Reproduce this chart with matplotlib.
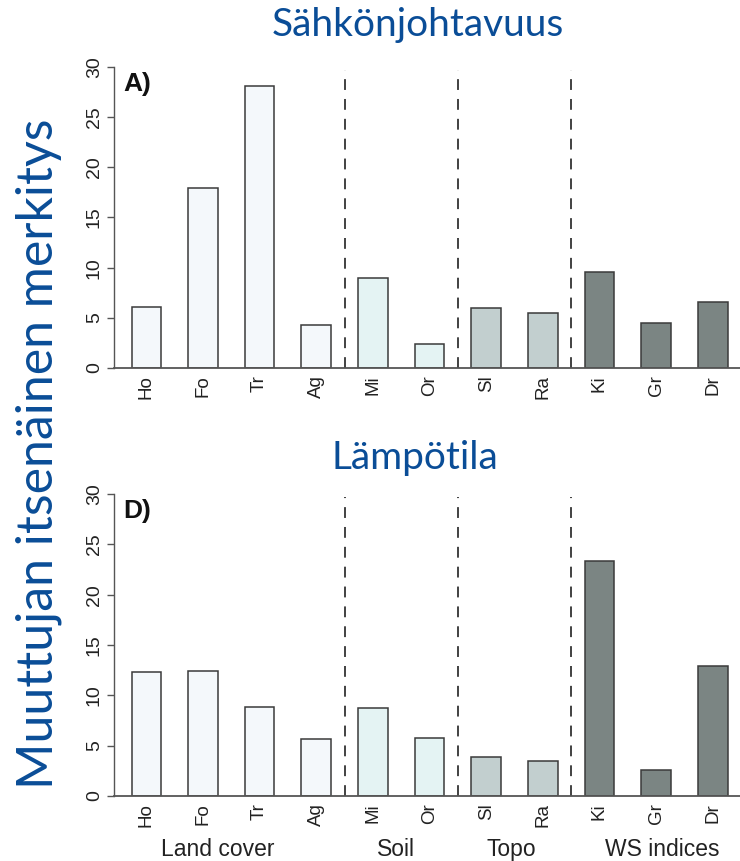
import matplotlib.pyplot as plt

labels = ['Ho', 'Fo', 'Tr', 'Ag', 'Mi', 'Or', 'Sl', 'Ra', 'Ki', 'Gr', 'Dr']
# group of each variable: 0 land cover, 1 soil, 2 topo, 3 WS indices
groups = [0, 0, 0, 0, 1, 1, 2, 2, 3, 3, 3]
ec_values = [6.1, 17.9, 28.1, 4.3, 9.0, 2.4, 5.95, 5.45, 9.6, 4.45, 6.6]
temp_values = [12.35, 12.45, 8.85, 5.7, 8.75, 5.75, 3.85, 3.5, 23.3, 2.55, 12.95]
group_names = ['Land cover', 'Soil', 'Topo', 'WS indices']
group_label_x = [1.27, 4.41, 6.44, 9.1]
group_colors = ['#f4f8fb', '#e4f3f3', '#c2cfcf', '#7b8583']
separators = [3.5, 5.5, 7.5]

blue = '#0a4d97'

fig = plt.figure(figsize=(7.4, 8.61), dpi=100)
ax1 = fig.add_axes([0.154, 0.5726, 0.846, 0.3496])
ax2 = fig.add_axes([0.154, 0.0755, 0.846, 0.3507])

def draw(ax, values, letter):
    x = list(range(len(labels)))
    colors = [group_colors[g] for g in groups]
    ax.bar(x, values, width=0.52, color=colors, edgecolor='#3a3a3a', linewidth=1.1)
    for s in separators:
        ax.plot([s, s], [0, 29.7], ls=(0, (6, 5)), color='#333333', lw=1.3, clip_on=False)
    ax.set_xlim(-0.57, 10.48)
    ax.set_ylim(0, 30)
    ax.set_yticks([0, 5, 10, 15, 20, 25, 30])
    ax.set_yticklabels(['0', '5', '10', '15', '20', '25', '30'], rotation=90, va='center',
                       family='Liberation Sans', fontsize=14, color='#222222')
    ax.set_xticks(x)
    ax.set_xticklabels(labels, rotation=90, family='Liberation Sans', fontsize=13.5, color='#222222')
    ax.tick_params(axis='x', length=0, pad=5)
    ax.tick_params(axis='y', length=5, width=1, color='#555555', pad=3)
    ax.spines['top'].set_visible(False)
    ax.spines['right'].set_visible(False)
    ax.spines['left'].set_color('#555555')
    ax.spines['bottom'].set_color('#555555')
    ax.spines['left'].set_linewidth(1)
    ax.spines['bottom'].set_linewidth(1.3)
    ax.text(-0.4, 28.3, letter, fontsize=19, fontweight='bold', family='Liberation Sans',
            va='center', ha='left', color='#111111')

draw(ax1, ec_values, 'A)')
draw(ax2, temp_values, 'D)')

for name, gx in zip(group_names, group_label_x):
    ax2.text(gx, -0.176, name, transform=ax2.get_xaxis_transform(), ha='center', va='center',
             family='Liberation Sans', fontsize=16.5, color='#222222')

fig.text(0.565, 0.971, 'Sähkönjohtavuus', ha='center', va='center', color=blue,
         family='Lato', fontsize=28)
fig.text(0.561, 0.468, 'Lämpötila', ha='center', va='center', color=blue,
         family='Lato', fontsize=28)
fig.text(0.052, 0.473, 'Muuttujan itsenäinen merkitys', rotation=90, ha='center', va='center',
         color=blue, family='Lato', fontsize=36)

fig.savefig('out.png', dpi=100)
